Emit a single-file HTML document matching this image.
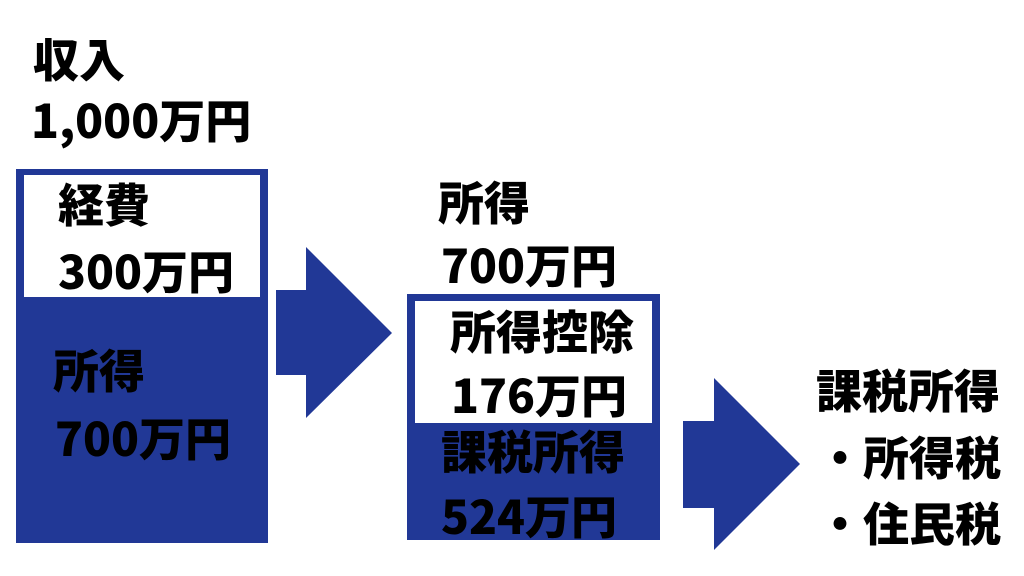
<!DOCTYPE html>
<html><head><meta charset="utf-8"><style>
body{margin:0;width:1024px;height:576px;background:#fff;position:relative;overflow:hidden;font-family:"Noto Sans CJK JP","Liberation Sans",sans-serif;font-weight:900;}
.t{position:absolute;font-size:46px;line-height:46px;white-space:nowrap;color:#000;letter-spacing:0px}
.r{position:absolute}
</style></head><body>
<div class="r" style="left:16px;top:169px;width:252px;height:374px;background:#213896"></div>
<div class="r" style="left:24px;top:175px;width:236px;height:122px;background:#fff"></div>
<div class="r" style="left:407px;top:294px;width:253px;height:246px;background:#213896"></div>
<div class="r" style="left:415px;top:301px;width:237px;height:122px;background:#fff"></div>
<svg class="r" style="left:0;top:0" width="1024" height="576">
<polygon points="276,290 306,290 306,247 392,333 306,418 306,375 276,375" fill="#213896"/>
<polygon points="683,421 714,421 714,378 800,464 714,550 714,508 683,508" fill="#213896"/>
</svg>
<div class="t" style="left:33px;top:35px">収入</div>
<div class="t" style="left:31px;top:96px">1,000万円</div>
<div class="t" style="left:58px;top:180px">経費</div>
<div class="t" style="left:58px;top:247px">300万円</div>
<div class="t" style="left:53px;top:346px">所得</div>
<div class="t" style="left:55px;top:414px">700万円</div>
<div class="t" style="left:438px;top:178px">所得</div>
<div class="t" style="left:441px;top:241px">700万円</div>
<div class="t" style="left:450px;top:307px">所得控除</div>
<div class="t" style="left:451px;top:371px">176万円</div>
<div class="t" style="left:441px;top:427px">課税所得</div>
<div class="t" style="left:441px;top:492px">524万円</div>
<div class="t" style="left:816px;top:366px">課税所得</div>
<div class="t" style="left:817px;top:433px">・所得税</div>
<div class="t" style="left:817px;top:499px">・住民税</div>
</body></html>
